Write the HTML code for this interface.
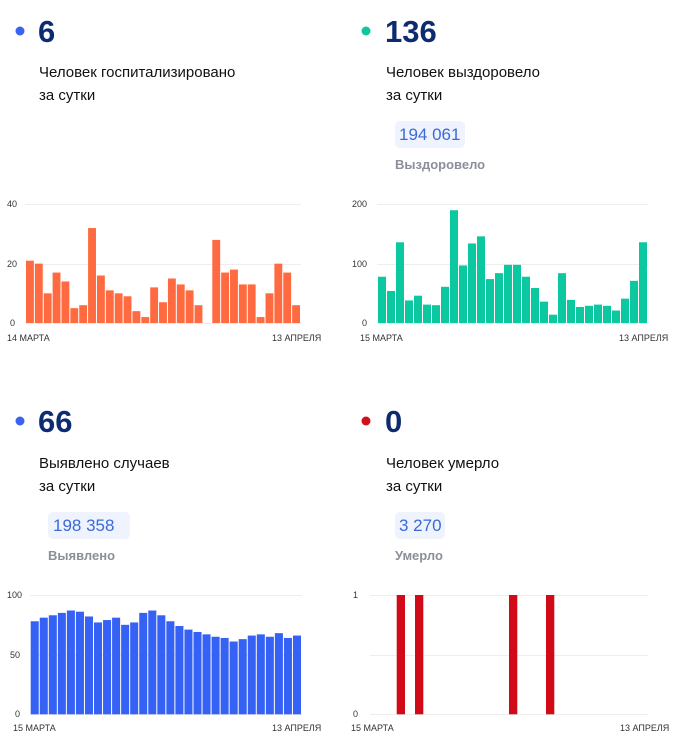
<!DOCTYPE html>
<html><head><meta charset="utf-8"><style>
body{margin:0;background:#fff;width:676px;height:742px;overflow:hidden;font-family:"Liberation Sans",sans-serif}
</style></head><body>
<svg width="676" height="742" xmlns="http://www.w3.org/2000/svg" font-family="Liberation Sans, sans-serif">
<g id="hdr">
<circle cx="20" cy="31" r="4.5" fill="#3a63f0"/>
<text x="38" y="42" font-size="31" font-weight="bold" fill="#0d2b70">6</text>
<text x="39" y="77" font-size="15" fill="#111">Человек госпитализировано</text>
<text x="39" y="100" font-size="15" fill="#111">за сутки</text>

<circle cx="366" cy="31" r="4.5" fill="#0dc6a0"/>
<text x="385" y="42" font-size="31" font-weight="bold" fill="#0d2b70">136</text>
<text x="386" y="77" font-size="15" fill="#111">Человек выздоровело</text>
<text x="386" y="100" font-size="15" fill="#111">за сутки</text>
<rect x="395" y="121" width="70" height="27" rx="5" fill="#eef3fd"/>
<text x="399" y="140" font-size="17" fill="#3b6ad8">194 061</text>
<text x="395" y="169" font-size="13" font-weight="bold" fill="#8a8f99">Выздоровело</text>

<circle cx="20" cy="421" r="4.5" fill="#3a63f0"/>
<text x="38" y="432" font-size="31" font-weight="bold" fill="#0d2b70">66</text>
<text x="39" y="468" font-size="15" fill="#111">Выявлено случаев</text>
<text x="39" y="491" font-size="15" fill="#111">за сутки</text>
<rect x="48" y="512" width="82" height="27" rx="5" fill="#eef3fd"/>
<text x="53" y="531" font-size="17" fill="#3b6ad8">198 358</text>
<text x="48" y="560" font-size="13" font-weight="bold" fill="#8a8f99">Выявлено</text>

<circle cx="366" cy="421" r="4.5" fill="#d0101c"/>
<text x="385" y="432" font-size="31" font-weight="bold" fill="#0d2b70">0</text>
<text x="386" y="468" font-size="15" fill="#111">Человек умерло</text>
<text x="386" y="491" font-size="15" fill="#111">за сутки</text>
<rect x="395" y="512" width="50" height="27" rx="5" fill="#eef3fd"/>
<text x="399" y="531" font-size="17" fill="#3b6ad8">3 270</text>
<text x="395" y="560" font-size="13" font-weight="bold" fill="#8a8f99">Умерло</text>
</g>
<g font-size="9" fill="#333">
<line x1="25" y1="204.5" x2="301" y2="204.5" stroke="#eee"/>
<line x1="25" y1="264.5" x2="301" y2="264.5" stroke="#eee"/>
<line x1="25" y1="323.5" x2="301" y2="323.5" stroke="#eee"/>
<text x="7" y="207">40</text><text x="7" y="267">20</text><text x="10" y="326">0</text>
<text x="7" y="341">14 МАРТА</text><text x="272" y="341">13 АПРЕЛЯ</text>

<line x1="377" y1="204.5" x2="648" y2="204.5" stroke="#eee"/>
<line x1="377" y1="264.5" x2="648" y2="264.5" stroke="#eee"/>
<line x1="377" y1="323.5" x2="648" y2="323.5" stroke="#eee"/>
<text x="352" y="207">200</text><text x="352" y="267">100</text><text x="362" y="326">0</text>
<text x="360" y="341">15 МАРТА</text><text x="619" y="341">13 АПРЕЛЯ</text>

<line x1="30" y1="595.5" x2="302" y2="595.5" stroke="#eee"/>
<line x1="30" y1="655.5" x2="302" y2="655.5" stroke="#eee"/>
<line x1="30" y1="714.5" x2="302" y2="714.5" stroke="#eee"/>
<text x="7" y="598">100</text><text x="10" y="658">50</text><text x="15" y="717">0</text>
<text x="13" y="731">15 МАРТА</text><text x="272" y="731">13 АПРЕЛЯ</text>

<line x1="370" y1="595.5" x2="648" y2="595.5" stroke="#eee"/>
<line x1="370" y1="655.5" x2="648" y2="655.5" stroke="#eee"/>
<line x1="370" y1="714.5" x2="648" y2="714.5" stroke="#eee"/>
<text x="353" y="598">1</text><text x="353" y="717">0</text>
<text x="351" y="731">15 МАРТА</text><text x="620" y="731">13 АПРЕЛЯ</text>
</g>
<g id="bars"></g>
</svg>
<script>
var g=document.getElementById('bars');
function bars(vals,x0,x1,y0,ytop,max,color){
 var w=(x1-x0)/vals.length;
 vals.forEach(function(v,i){ if(!v)return;
  var h=v/max*(y0-ytop);
  var r=document.createElementNS('http://www.w3.org/2000/svg','rect');
  r.setAttribute('x',x0+i*w);r.setAttribute('width',w-1);
  r.setAttribute('y',y0-h);r.setAttribute('height',h);r.setAttribute('fill',color);g.appendChild(r);});
}
bars([21,20,10,17,14,5,6,32,16,11,10,9,4,2,12,7,15,13,11,6,0,28,17,18,13,13,2,10,20,17,6],26,301,323,204.3,40,'#ff6a40');
bars([78,54,136,38,46,31,30,61,190,97,134,146,74,84,98,98,78,59,36,14,84,39,27,29,31,29,21,41,71,136],378,648,323,204.3,200,'#0cc8a0');
bars([78,81,83,85,87,86,82,77,79,81,75,77,85,87,83,78,74,71,69,67,65,64,61,63,66,67,65,68,64,66],30.7,302,714.3,595,100,'#3661f5');
[396.7,415,509,546].forEach(function(x){bars([1],x,x+9.3,714.3,595,1,'#d00a16');});
</script>
</body></html>
